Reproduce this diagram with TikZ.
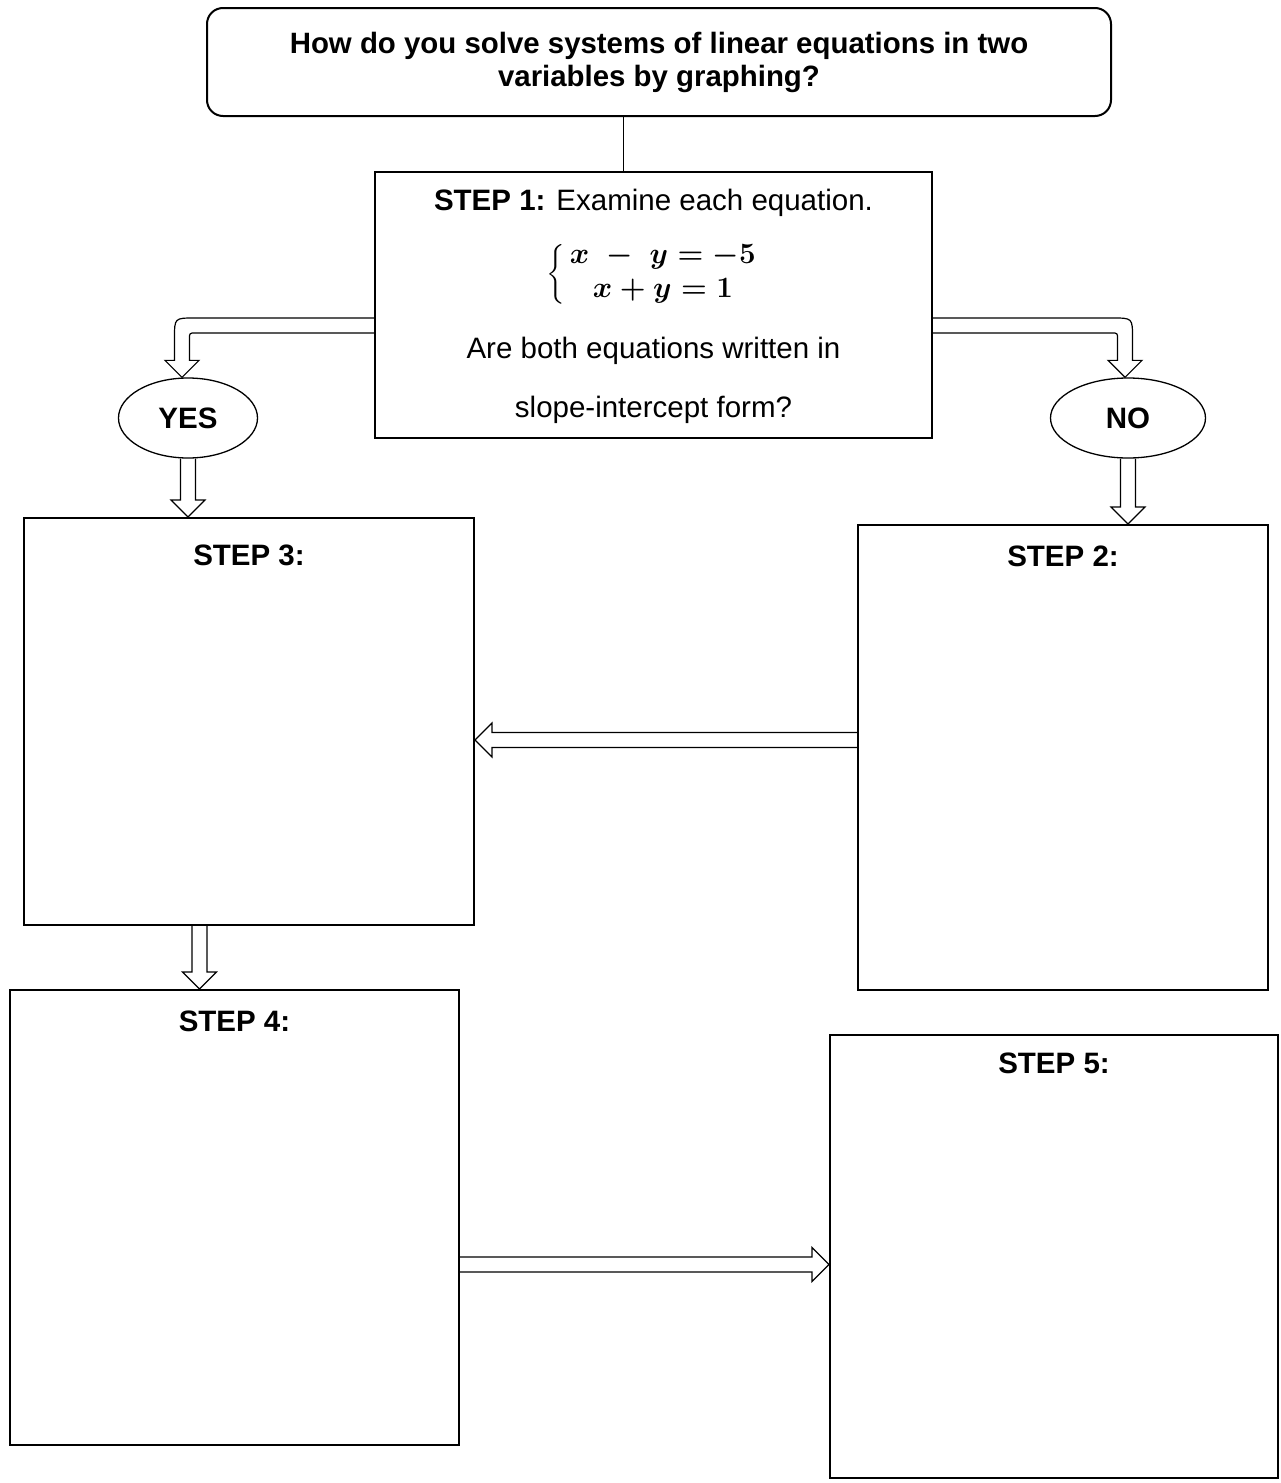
\documentclass[tikz,border=0pt]{standalone}
\usepackage{fix-cm}
\usepackage{amsmath}
\usepackage{fontspec}
\setmainfont{Liberation Sans}
\usetikzlibrary{shapes,arrows,calc}
\tikzstyle{box} = [draw, line width=2pt, inner sep=0pt]
\tikzstyle{answer} = [draw, ellipse, line width=1.3pt, inner sep=0pt, font=\bfseries]
\tikzstyle{flow} = [draw, line width=1.2pt, line join=miter]
\tikzstyle{steplabel} = [anchor=base, font=\bfseries]

% the system in step 1
\newcommand{\eqsys}{{\boldmath$\Big\{\begin{array}{c} x\;-\;y=-5\\ x+y=1\end{array}$}}

% hollow arrows, all sizes in px (1pt)
\newcommand{\downflow}[2]{%
  \draw[flow] let \p1=(#1), \p2=(#2) in
    (\x2-7.5pt,\y1) -- (\x2-7.5pt,\y2+17pt) -- (\x2-17pt,\y2+17pt) -- (\x2,\y2)
    -- (\x2+17pt,\y2+17pt) -- (\x2+7.5pt,\y2+17pt) -- (\x2+7.5pt,\y1);}
\newcommand{\sideflow}[3]{%
  \draw[flow] let \p1=(#1), \p2=(#2) in
    (\x1,\y2+7.5pt) -- ({\x2-#3*17pt},\y2+7.5pt) -- ({\x2-#3*17pt},\y2+17pt) -- (\x2,\y2)
    -- ({\x2-#3*17pt},\y2-17pt) -- ({\x2-#3*17pt},\y2-7.5pt) -- (\x1,\y2-7.5pt);}
\newcommand{\bentflow}[3]{%
  \draw[flow] let \p1=(#1), \p2=(#2) in
    (\x1,\y1+7.5pt) -- ({\x2-#3*12.5pt},\y1+7.5pt)
    .. controls ({\x2+#3*7.5pt},\y1+7.5pt) .. ({\x2+#3*7.5pt},\y1-12.5pt)
    -- ({\x2+#3*7.5pt},\y2+17pt) -- ({\x2+#3*17pt},\y2+17pt) -- (\x2,\y2)
    -- ({\x2-#3*17pt},\y2+17pt) -- ({\x2-#3*7.5pt},\y2+17pt)
    -- ({\x2-#3*7.5pt},\y1-13.5pt)
    .. controls ({\x2-#3*7.5pt},\y1-7.5pt) .. ({\x2-#3*13.5pt},\y1-7.5pt)
    -- (\x1,\y1-7.5pt);}

\begin{document}
\begin{tikzpicture}[x=1pt,y=-1pt,execute at begin picture={\fontsize{29.5}{34}\selectfont}]
\useasboundingbox (0,0) rectangle (1281,1483);

% question
\node[box, rounded corners=16pt, minimum width=904, minimum height=108, align=center,
  font=\fontsize{29.4}{33}\selectfont\bfseries] (title) at (659,62)
  {How do you solve systems of linear equations in two\\variables by graphing?};

% step 1
\node[box, minimum width=557, minimum height=266] (s1) at (653.5,305) {};
\node[anchor=base] (s1a) at ($(s1.north)+(0,39)$) {\textbf{STEP 1:} Examine each equation.};
\node[inner sep=0pt] (s1b) at ($(s1.north)+(0,103)$) {\eqsys};
\node[anchor=base] (s1c) at ($(s1.north)+(0,187)$) {Are both equations written in};
\node[anchor=base] (s1d) at ($(s1.north)+(0,246)$) {slope-intercept form?};

\coordinate (jn) at ($(s1.north)+(-30,0)$);
\draw[line width=1pt] (jn) -- (jn |- title.south);

% yes / no
\node[answer, minimum width=139, minimum height=80] (yes) at (188,418) {YES};
\node[answer, minimum width=155, minimum height=80] (no) at (1128,418) {NO};

% steps 2 to 5
\node[box, minimum width=450, minimum height=407] (s3) at (249,721.5) {};
\node[box, minimum width=410, minimum height=465] (s2) at (1063,757.5) {};
\node[box, minimum width=449, minimum height=455] (s4) at (234.5,1217.5) {};
\node[box, minimum width=448, minimum height=443] (s5) at (1054,1256.5) {};
\node[steplabel] (t3) at ($(s3.north)+(0,48)$) {STEP 3:};
\node[steplabel] (t2) at ($(s2.north)+(0,42)$) {STEP 2:};
\node[steplabel] (t4) at ($(s4.north)+(0,42)$) {STEP 4:};
\node[steplabel] (t5) at ($(s5.north)+(0,39)$) {STEP 5:};

% arrows
\coordinate (a1) at ($(s1.west)+(0,20.5)$);
\coordinate (a1t) at ($(yes.north)+(-6,0)$);
\coordinate (a2) at ($(s1.east)+(0,20.5)$);
\coordinate (a2t) at ($(no.north)+(-3,0)$);
\bentflow{a1}{a1t}{-1}
\bentflow{a2}{a2t}{1}

\downflow{yes.south}{yes.south |- s3.north}
\downflow{no.south}{no.south |- s2.north}

\coordinate (a23) at ($(s2.west)+(0,-17.5)$);
\sideflow{a23}{a23 -| s3.east}{-1}

\coordinate (a34) at ($(s3.south)+(-49.5,0)$);
\downflow{a34}{a34 |- s4.north}

\coordinate (a45) at ($(s4.east)+(0,47)$);
\sideflow{a45}{a45 -| s5.west}{1}
\end{tikzpicture}
\end{document}
